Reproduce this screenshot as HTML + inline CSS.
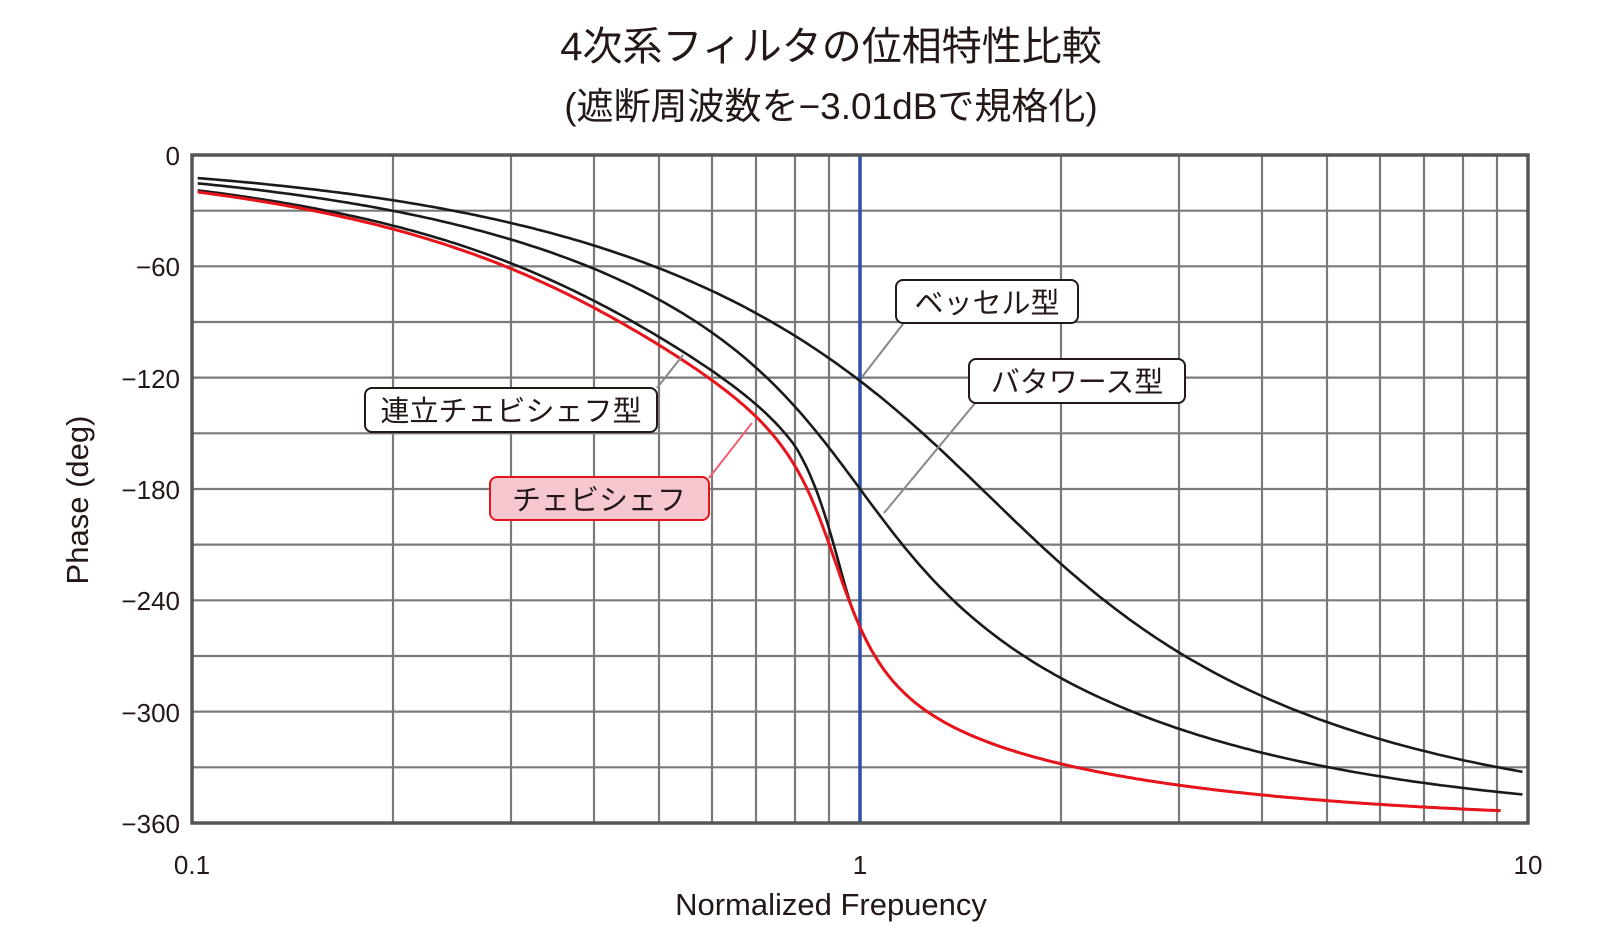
<!DOCTYPE html>
<html><head><meta charset="utf-8"><style>
html,body{margin:0;padding:0;background:#fff;}
svg{display:block;}
text{font-family:"Liberation Sans","Noto Sans CJK JP",sans-serif;fill:#231815;}
</style></head><body>
<svg id="s" width="1600" height="937" viewBox="0 0 1600 937" xmlns="http://www.w3.org/2000/svg">
<text x="831" y="60" font-size="40" text-anchor="middle">4次系フィルタの位相特性比較</text>
<text x="831" y="119" font-size="37" text-anchor="middle">(遮断周波数を−3.01dBで規格化)</text>
<g stroke="#7a7a7a" stroke-width="2.2" fill="none">
<line x1="192" y1="210.7" x2="1528" y2="210.7"/><line x1="192" y1="266.3" x2="1528" y2="266.3"/>
<line x1="192" y1="322" x2="1528" y2="322"/><line x1="192" y1="377.6" x2="1528" y2="377.6"/>
<line x1="192" y1="433.3" x2="1528" y2="433.3"/><line x1="192" y1="489" x2="1528" y2="489"/>
<line x1="192" y1="544.6" x2="1528" y2="544.6"/><line x1="192" y1="600.3" x2="1528" y2="600.3"/>
<line x1="192" y1="656" x2="1528" y2="656"/><line x1="192" y1="711.6" x2="1528" y2="711.6"/>
<line x1="192" y1="767.3" x2="1528" y2="767.3"/>
<line x1="393" y1="155" x2="393" y2="823"/><line x1="511" y1="155" x2="511" y2="823"/>
<line x1="594" y1="155" x2="594" y2="823"/><line x1="659" y1="155" x2="659" y2="823"/>
<line x1="712" y1="155" x2="712" y2="823"/><line x1="756" y1="155" x2="756" y2="823"/>
<line x1="795" y1="155" x2="795" y2="823"/><line x1="829" y1="155" x2="829" y2="823"/>
<line x1="1061" y1="155" x2="1061" y2="823"/><line x1="1179" y1="155" x2="1179" y2="823"/>
<line x1="1262" y1="155" x2="1262" y2="823"/><line x1="1327" y1="155" x2="1327" y2="823"/>
<line x1="1380" y1="155" x2="1380" y2="823"/><line x1="1424" y1="155" x2="1424" y2="823"/>
<line x1="1463" y1="155" x2="1463" y2="823"/><line x1="1497" y1="155" x2="1497" y2="823"/>
</g>
<line x1="860" y1="155" x2="860" y2="823" stroke="#2f4fa8" stroke-width="3.5"/>
<rect x="192" y="155" width="1336" height="668" fill="none" stroke="#555" stroke-width="3.5"/>
<g fill="none" stroke-width="2.6" stroke-linejoin="round">
<path id="bes" stroke="#1a1a1a"/>
<path id="but" stroke="#1a1a1a"/>
<path id="ell" stroke="#1a1a1a"/>
<path id="che" stroke="#e8141b" stroke-width="3"/>
</g>
<g stroke="#888" stroke-width="2" fill="none">
<line x1="903" y1="324" x2="862" y2="377"/>
<line x1="976" y1="402" x2="884" y2="513"/>
<line x1="657" y1="388" x2="683" y2="355"/>
</g>
<line x1="709" y1="478" x2="752" y2="423" stroke="#f06070" stroke-width="2"/>
<rect x="896" y="280" width="182" height="43" rx="7" fill="#fff" stroke="#231815" stroke-width="2"/>
<text x="987" y="313" font-size="29" text-anchor="middle">ベッセル型</text>
<rect x="969" y="359" width="216" height="44" rx="7" fill="#fff" stroke="#231815" stroke-width="2"/>
<text x="1077" y="392" font-size="29" text-anchor="middle">バタワース型</text>
<rect x="365" y="388" width="292" height="44" rx="7" fill="#fff" stroke="#231815" stroke-width="2"/>
<text x="511" y="421" font-size="29" text-anchor="middle">連立チェビシェフ型</text>
<rect x="490" y="477" width="219" height="43" rx="7" fill="#f6c7cf" stroke="#e8141b" stroke-width="2"/>
<text x="599" y="510" font-size="29" text-anchor="middle">チェビシェフ</text>
<g font-size="26" text-anchor="end">
<text x="180" y="165">0</text><text x="180" y="276">−60</text><text x="180" y="388">−120</text>
<text x="180" y="499">−180</text><text x="180" y="610">−240</text><text x="180" y="722">−300</text>
<text x="180" y="833">−360</text>
</g>
<g font-size="26" text-anchor="middle">
<text x="192" y="874">0.1</text><text x="860" y="874">1</text><text x="1528" y="874">10</text>
</g>
<text x="831" y="915" font-size="31" text-anchor="middle">Normalized Frepuency</text>
<text transform="translate(88,500) rotate(-90)" font-size="31" text-anchor="middle">Phase (deg)</text>
</svg>
<script>
function sec(f,w0,Q){var x=f/w0;return Math.atan2(x/Q,1-x*x)*180/Math.PI;}
function bes(f){return sec(f,1.4192,0.5219)+sec(f,1.5912,0.8055);}
function but(f){return sec(f,1,0.5412)+sec(f,1,1.3066);}
function che(f){return sec(f,0.5,0.65)+sec(f,0.92,3.5);}
function ell(f){var s;if(f<0.8)s=0.955;else if(f>0.97)s=1;else s=0.955+0.045*(f-0.8)/0.17;return che(f*s);}
function X(f){return 192+668*(Math.log10(f)+1);}
function Y(d){return 155+d*111.3/60;}
function mk(id,fn,f1){var p="",n=300;for(var i=0;i<=n;i++){var f=0.102*Math.pow(f1/0.102,i/n);p+=(i?"L":"M")+X(f).toFixed(1)+","+Y(fn(f)).toFixed(1);}document.getElementById(id).setAttribute("d",p);}
mk("bes",bes,9.81);mk("but",but,9.81);mk("ell",ell,9.1);mk("che",che,9.1);
</script>
</body></html>
